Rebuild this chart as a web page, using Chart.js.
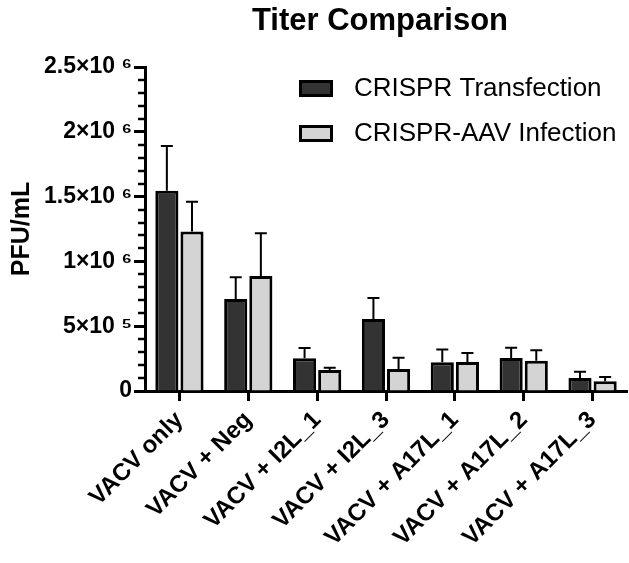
<!DOCTYPE html>
<html>
<head>
<meta charset="utf-8">
<script src="https://cdn.jsdelivr.net/npm/chart.js@4.4.1/dist/chart.umd.min.js"></script>
<style>
  html, body { margin: 0; padding: 0; background: #fff; }
  #wrap { width: 629px; height: 563px; }
</style>
</head>
<body>
<div id="wrap"><canvas id="chart"></canvas></div>
<script>
const categories = ["VACV only", "VACV + Neg", "VACV + I2L_1", "VACV + I2L_3", "VACV + A17L_1", "VACV + A17L_2", "VACV + A17L_3"];
const seriesNames = ["CRISPR Transfection", "CRISPR-AAV Infection"];
const transfection = [1545000, 710000, 252000, 556000, 221000, 255000, 100000];
const transfectionErr = [345000, 167000, 80000, 162000, 99000, 79000, 49000];
const infection = [1230000, 887000, 162000, 170000, 224000, 234000, 75000];
const infectionErr = [230000, 330000, 18000, 87000, 69000, 80000, 33000];
const yTicks = [0, 500000, 1000000, 1500000, 2000000, 2500000];
const chartTitle = "Titer Comparison";
const yTitle = "PFU/mL";

const fills = ["#333333", "#d4d4d4"];
const errors = [transfectionErr, infectionErr];
const sup = { "5": "\u2075", "6": "\u2076" };

function sciLabel(v) {
  if (v === 0) return "0";
  const exp = Math.floor(Math.log10(v));
  const m = +(v / Math.pow(10, exp)).toFixed(2);
  return m + "\u00d710 " + sup[exp];
}

// error bars, minor ticks, title and legend
const extras = {
  id: "extras",
  afterDatasetsDraw(chart) {
    const ctx = chart.ctx;
    const y = chart.scales.y;
    ctx.save();
    ctx.strokeStyle = "#000";
    ctx.lineWidth = 2;
    chart.data.datasets.forEach((ds, i) => {
      const meta = chart.getDatasetMeta(i);
      meta.data.forEach((bar, j) => {
        const top = y.getPixelForValue(ds.data[j] + errors[i][j]);
        ctx.beginPath();
        ctx.moveTo(bar.x, bar.y);
        ctx.lineTo(bar.x, top);
        ctx.moveTo(bar.x - 6, top);
        ctx.lineTo(bar.x + 6, top);
        ctx.stroke();
      });
    });
    ctx.restore();
  },
  afterDraw(chart) {
    const ctx = chart.ctx;
    const area = chart.chartArea;
    const y = chart.scales.y;
    ctx.save();
    // minor ticks
    ctx.strokeStyle = "#000";
    ctx.lineWidth = 2.5;
    for (let v = 100000; v < 2500000; v += 100000) {
      if (v % 500000 === 0) continue;
      const py = Math.round(y.getPixelForValue(v));
      ctx.beginPath();
      ctx.moveTo(area.left - 7, py);
      ctx.lineTo(area.left, py);
      ctx.stroke();
    }
    // title
    ctx.fillStyle = "#000";
    ctx.font = "bold 31px 'Liberation Sans', Arial, sans-serif";
    ctx.textAlign = "center";
    ctx.textBaseline = "middle";
    ctx.fillText(chartTitle, (area.left + area.right) / 2 - 6, 21);
    // legend
    ctx.textAlign = "left";
    ctx.font = "26px 'Liberation Sans', Arial, sans-serif";
    seriesNames.forEach((name, i) => {
      const bx = area.left + 154;
      const by = area.top + 13 + i * 45;
      ctx.fillStyle = fills[i];
      ctx.fillRect(bx, by, 34, 17);
      ctx.lineWidth = 3;
      ctx.strokeStyle = "#000";
      ctx.strokeRect(bx + 1.5, by + 1.5, 31, 14);
      ctx.fillStyle = "#000";
      ctx.fillText(name, bx + 55, by + 9);
    });
    ctx.restore();
  }
};

new Chart(document.getElementById("chart"), {
  type: "bar",
  data: {
    labels: categories,
    datasets: [
      { label: seriesNames[0], data: transfection, backgroundColor: fills[0], borderColor: "#000", borderWidth: 3 },
      { label: seriesNames[1], data: infection, backgroundColor: fills[1], borderColor: "#000", borderWidth: 3 }
    ]
  },
  options: {
    responsive: true,
    maintainAspectRatio: false,
    animation: false,
    datasets: { bar: { categoryPercentage: 0.73, barPercentage: 0.92 } },
    layout: { padding: { top: 67, right: 2, left: 0, bottom: 0 } },
    plugins: { legend: { display: false }, tooltip: { enabled: false } },
    scales: {
      x: {
        type: "category",
        offset: true,
        grid: { offset: false, drawOnChartArea: false, tickLength: 10, tickWidth: 3, tickColor: "#000" },
        border: { display: true, width: 3, color: "#000" },
        ticks: {
          color: "#000",
          font: { family: "'Liberation Sans', Arial, sans-serif", size: 24, weight: "bold" },
          maxRotation: 45, minRotation: 45, padding: 5, autoSkip: false
        },
        afterFit(scale) { scale.height = 172; }
      },
      y: {
        min: 0,
        max: 2500000,
        afterBuildTicks(scale) { scale.ticks = yTicks.map(v => ({ value: v })); },
        grid: { drawOnChartArea: false, tickLength: 11, tickWidth: 3, tickColor: "#000" },
        border: { display: true, width: 3, color: "#000" },
        ticks: {
          color: "#000",
          padding: 2,
          font: { family: "'Liberation Sans', Arial, sans-serif", size: 23, weight: "bold" },
          callback: v => sciLabel(v)
        },
        title: {
          display: true,
          text: yTitle,
          color: "#000",
          padding: 7,
          font: { family: "'Liberation Sans', Arial, sans-serif", size: 25, weight: "bold" }
        },
        afterFit(scale) { scale.width = 145; }
      }
    }
  },
  plugins: [extras]
});
</script>
</body>
</html>
